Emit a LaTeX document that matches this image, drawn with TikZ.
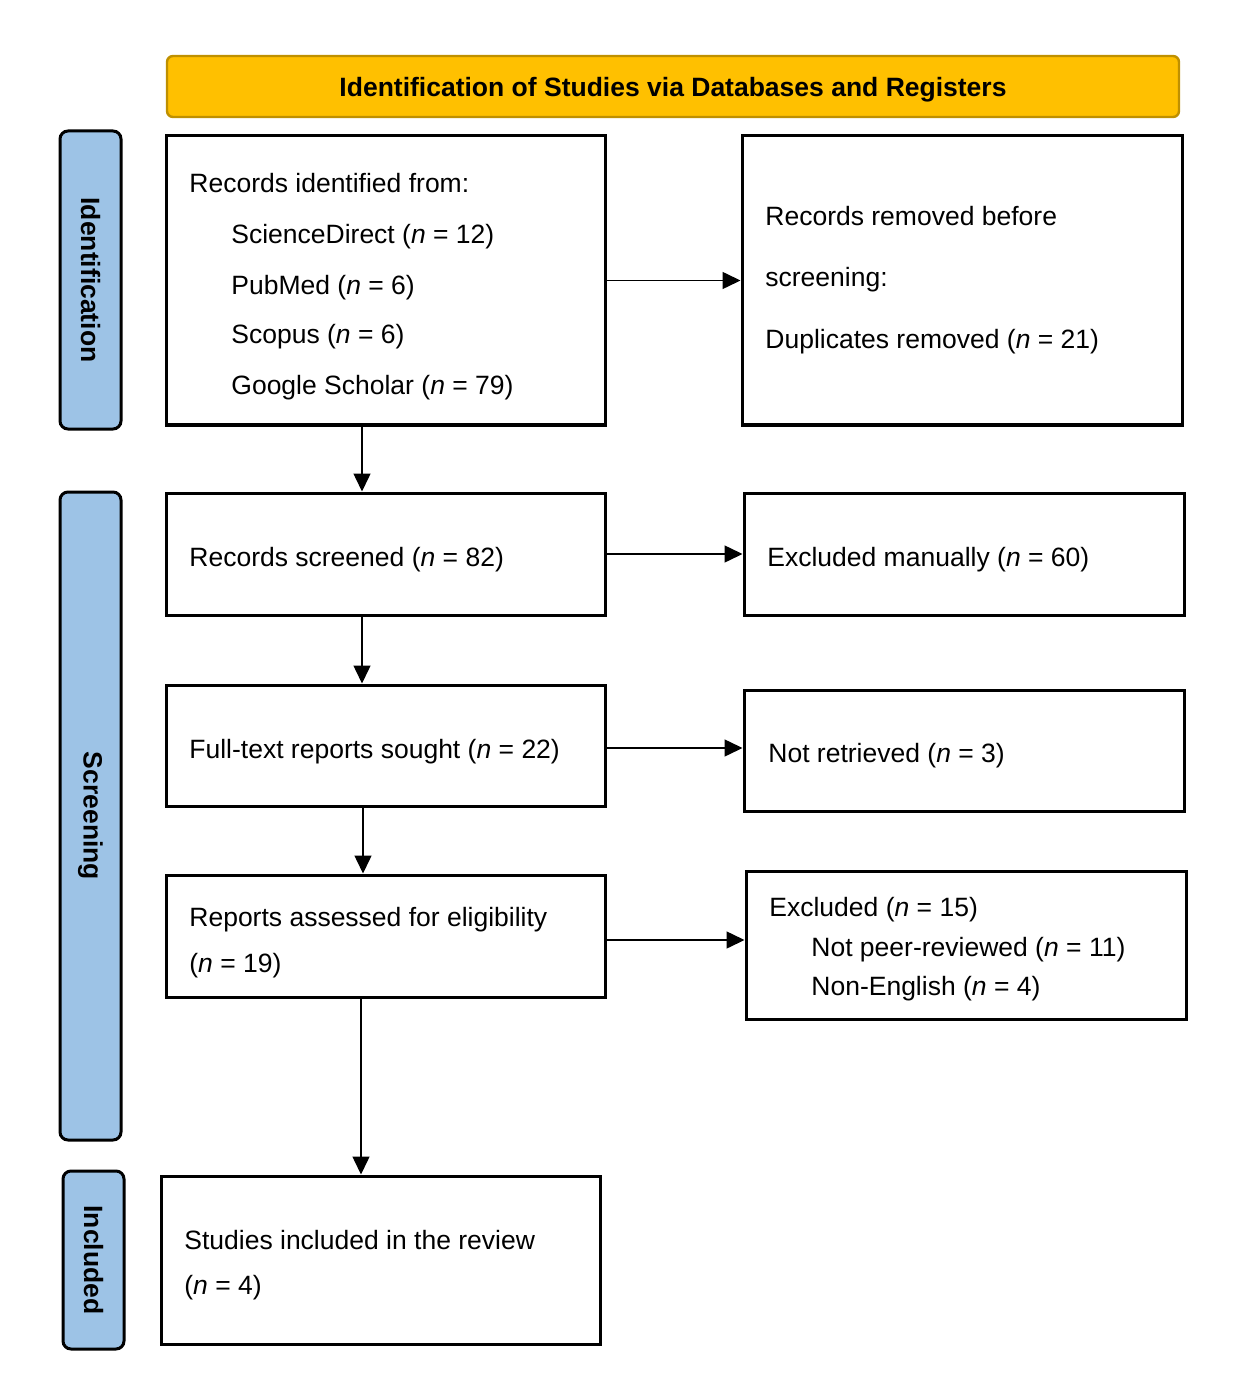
\documentclass[tikz,border=0pt]{standalone}
\usepackage{fontspec}
\setmainfont{Liberation Sans}
\usetikzlibrary{arrows.meta}
\definecolor{hdrfill}{RGB}{255,192,0}
\definecolor{hdrline}{RGB}{191,144,0}
\definecolor{sidefill}{RGB}{157,195,230}
\tikzset{
  x=0.5pt, y=-0.5pt,
  every node/.style={font=\fontsize{13.25pt}{16pt}\selectfont},
  box/.style={draw=black, line width=1.5pt, inner sep=0pt, fill=white},
  side/.style={draw=black, line width=1.5pt, fill=sidefill, rounded corners=4pt, inner sep=0pt},
  sidetext/.style={rotate=-90, font=\fontsize{13.25pt}{16pt}\selectfont\bfseries, inner sep=0pt},
  txt/.style={anchor=base west, inner sep=0pt},
  arr/.style={line width=0.75pt, -{Triangle[width=8.5pt,length=9pt]}}
}
\begin{document}
\begin{tikzpicture}
\useasboundingbox (0,0) rectangle (1239,1395);
% header
\node[draw=hdrline, line width=1.2pt, fill=hdrfill, rounded corners=3pt,
      minimum width=506pt, minimum height=30.5pt, inner sep=0pt, text depth=0pt,
      font=\fontsize{13.25pt}{16pt}\selectfont\bfseries] (hdr) at (673,86.5)
      {Identification of Studies via Databases and Registers};
% side labels
\node[side, minimum width=30.5pt, minimum height=149pt] (s1) at (90.5,280) {};
\node[sidetext] (s1t) at (s1.center) {Identification};
\node[side, minimum width=30.5pt, minimum height=324pt] (s2) at (90.5,816) {};
\node[sidetext] (s2t) at (s2.center) {Screening};
\node[side, minimum width=30.5pt, minimum height=89pt] (s3) at (93.5,1260) {};
\node[sidetext] (s3t) at (s3.center) {Included};
% boxes
\node[box, minimum width=219.5pt, minimum height=144.5pt] (A) at (385.5,280.5) {};
\node[box, minimum width=220pt, minimum height=144.5pt] (B) at (962,280.5) {};
\node[box, minimum width=219.5pt, minimum height=61pt] (C) at (385.5,554) {};
\node[box, minimum width=220pt, minimum height=61pt] (D) at (964,554) {};
\node[box, minimum width=219.5pt, minimum height=60.5pt] (E) at (385.5,745.5) {};
\node[box, minimum width=220pt, minimum height=60.5pt] (F) at (964,750.5) {};
\node[box, minimum width=219.5pt, minimum height=61pt] (G) at (385.5,936) {};
\node[box, minimum width=220pt, minimum height=74pt] (H) at (966,945) {};
\node[box, minimum width=219.5pt, minimum height=84pt] (I) at (380.5,1260) {};
% texts
\node[txt] (a1) at (189,193) {Records identified from:};
\node[txt] (a2) at (231,244) {ScienceDirect (\textit{n} = 12)};
\node[txt] (a3) at (231,295) {PubMed (\textit{n} = 6)};
\node[txt] (a4) at (231,344) {Scopus (\textit{n} = 6)};
\node[txt] (a5) at (231,394) {Google Scholar (\textit{n} = 79)};
\node[txt] (b1) at (765,226) {Records removed before};
\node[txt] (b2) at (765,287) {screening:};
\node[txt] (b3) at (765,349) {Duplicates removed (\textit{n} = 21)};
\node[txt] (c1) at (189,566) {Records screened (\textit{n} = 82)};
\node[txt] (d1) at (767,566) {Excluded manually (\textit{n} = 60)};
\node[txt] (e1) at (189,758) {Full-text reports sought (\textit{n} = 22)};
\node[txt] (f1) at (768,762) {Not retrieved (\textit{n} = 3)};
\node[txt] (g1) at (189,926) {Reports assessed for eligibility};
\node[txt] (g2) at (189,972) {(\textit{n} = 19)};
\node[txt] (h1) at (769,916) {Excluded (\textit{n} = 15)};
\node[txt] (h2) at (811,956) {Not peer-reviewed (\textit{n} = 11)};
\node[txt] (h3) at (811,995) {Non-English (\textit{n} = 4)};
\node[txt] (i1) at (184,1249) {Studies included in the review};
\node[txt] (i2) at (184,1294) {(\textit{n} = 4)};
% connectors
\draw[arr] (A.east) -- (B.west);
\draw[arr] ([xshift=-11.75pt]A.south) -- ([xshift=-11.75pt]A.south |- C.north);
\draw[arr] (C.east) -- (C.east -| D.west);
\draw[arr] ([xshift=-11.75pt]C.south) -- ([xshift=-11.75pt]C.south |- E.north);
\draw[arr] ([yshift=-1.25pt]E.east) -- ([yshift=-1.25pt]E.east -| F.west);
\draw[arr] ([xshift=-11.25pt]E.south) -- ([xshift=-11.25pt]E.south |- G.north);
\draw[arr] ([yshift=-2pt]G.east) -- ([yshift=-2pt]G.east -| H.west);
\draw[arr] ([xshift=-12.25pt]G.south) -- ([xshift=-12.25pt]G.south |- I.north);
\end{tikzpicture}
\end{document}
